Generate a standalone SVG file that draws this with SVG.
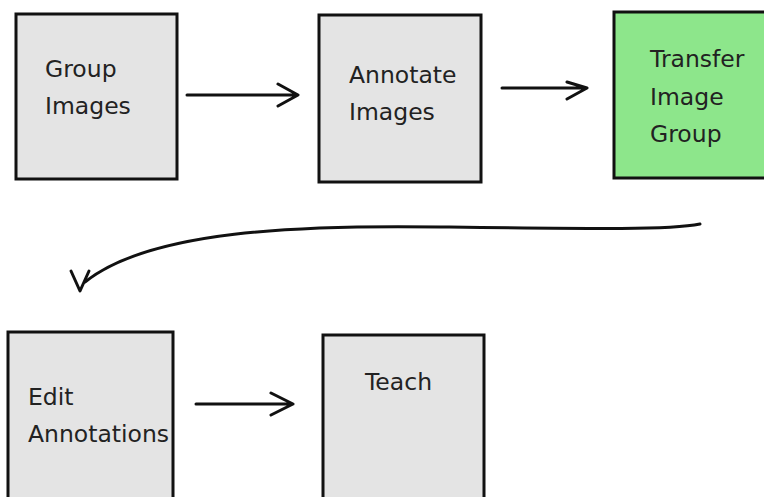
<svg xmlns="http://www.w3.org/2000/svg" width="764" height="497" viewBox="0 0 764 497">
<style>
.box{fill:#e4e4e4;stroke:#111;stroke-width:3}
.green{fill:#8de68b;stroke:#111;stroke-width:3}
.lbl{font-family:"DejaVu Sans",sans-serif;font-size:23.5px;fill:#222}
.line{fill:none;stroke:#111;stroke-width:3;stroke-linecap:round;stroke-linejoin:round}
</style>
<rect width="764" height="497" fill="#fff"/>
<g id="group-images">
<rect class="box" x="16" y="14" width="161" height="165"/>
<text class="lbl" x="45" y="77">Group</text>
<text class="lbl" x="45" y="114">Images</text>
</g>
<g id="annotate-images">
<rect class="box" x="319" y="15" width="162" height="167"/>
<text class="lbl" x="349" y="83">Annotate</text>
<text class="lbl" x="349" y="120">Images</text>
</g>
<g id="transfer-image-group">
<rect class="green" x="614" y="12" width="170" height="166"/>
<text class="lbl" x="650" y="67">Transfer</text>
<text class="lbl" x="650" y="105">Image</text>
<text class="lbl" x="650" y="142">Group</text>
</g>
<g id="edit-annotations">
<rect class="box" x="8" y="332" width="165" height="180"/>
<text class="lbl" x="28" y="405">Edit</text>
<text class="lbl" x="28" y="442">Annotations</text>
</g>
<g id="teach">
<rect class="box" x="323" y="335" width="161" height="180"/>
<text class="lbl" x="365" y="390">Teach</text>
</g>
<g id="connectors">
<path class="line" d="M187,95 L297,95 M278,84 L298,95 L278,106"/>
<path class="line" d="M502,88 L586,88 M567,82 L587,88 L567,99"/>
<path class="line" d="M196,404 L292,404 M271,393 L293,404 L271,415"/>
<path class="line" d="M700,224 C670,230 600,229 440,227 C300,225 150,230 85,282"/>
<path class="line" d="M71,271 L80,291 L89,271"/>
</g>
</svg>
